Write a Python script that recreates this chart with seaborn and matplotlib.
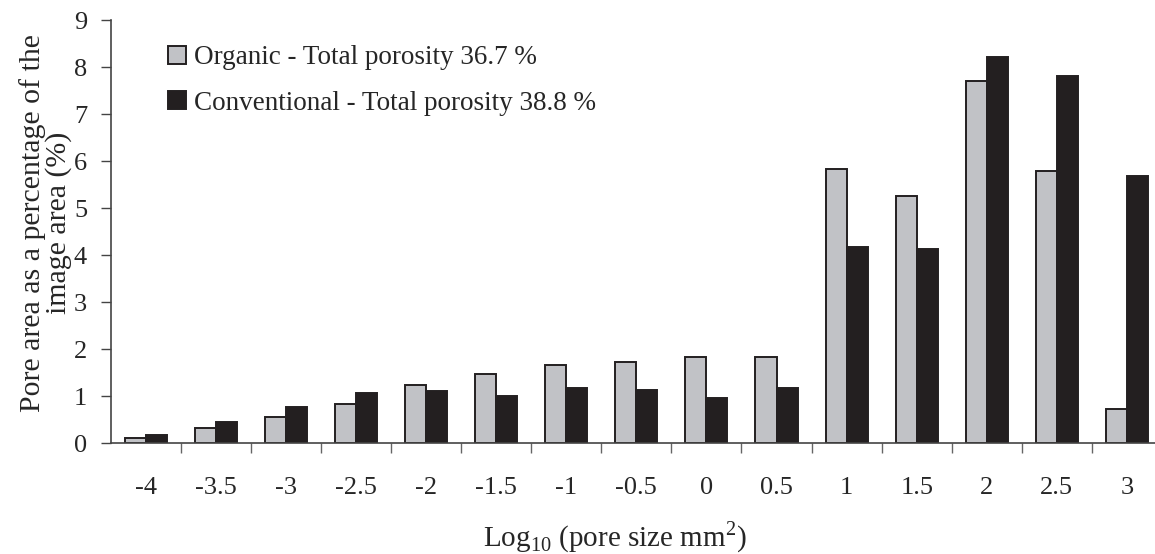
import pandas as pd
import numpy as np
import matplotlib
matplotlib.use('Agg')
import matplotlib.pyplot as plt
import seaborn as sns

# values
pore_size = ['-4', '-3.5', '-3', '-2.5', '-2', '-1.5', '-1', '-0.5',
             '0', '0.5', '1', '1.5', '2', '2.5', '3']
organic = [0.12, 0.32, 0.57, 0.84, 1.23, 1.48, 1.67, 1.72,
           1.83, 1.83, 5.84, 5.26, 7.70, 5.80, 0.72]
conventional = [0.17, 0.45, 0.77, 1.08, 1.12, 1.00, 1.17, 1.13,
                0.97, 1.17, 4.17, 4.14, 8.21, 7.82, 5.68]
series_names = ['Organic - Total porosity 36.7 %',
                'Conventional - Total porosity 38.8 %']

df = pd.DataFrame({
    'size': pore_size * 2,
    'value': organic + conventional,
    'series': [series_names[0]] * len(organic) + [series_names[1]] * len(conventional),
})

sns.set_style('white')
plt.rcParams['font.family'] = ['Liberation Serif', 'DejaVu Serif']
plt.rcParams['mathtext.fontset'] = 'custom'
plt.rcParams['mathtext.rm'] = 'Liberation Serif'

fig = plt.figure(figsize=(11.55, 5.54), dpi=100)
ax = fig.add_axes([0.0958, 0.1998, 0.9042, 0.7636])

colors = {series_names[0]: '#c1c2c6', series_names[1]: '#231f20'}
sns.barplot(data=df, x='size', y='value', hue='series', order=pore_size,
            hue_order=series_names, palette=colors, width=0.6,
            edgecolor='#231f20', linewidth=1.4, saturation=1, ax=ax)

ax.set_ylim(0, 9)
ax.set_xlim(-0.5, 14.4)
ax.set_yticks(range(0, 10))
ax.tick_params(axis='y', labelsize=19, length=7, width=1, color='#444444',
               direction='out', left=True, pad=10)
ax.tick_params(axis='x', which='major', labelsize=19, length=0, pad=24)
ax.set_xticks(np.arange(0.5, 14.5, 1), minor=True)
ax.tick_params(axis='x', which='minor', length=7, width=1, color='#666666', bottom=True)

for s in ['top', 'right']:
    ax.spines[s].set_visible(False)
for s in ['left', 'bottom']:
    ax.spines[s].set_color('#444444')
    ax.spines[s].set_linewidth(1.2)

ax.set_xlabel(r'Log$_{\mathrm{10}}$ (pore size mm$^{\mathrm{2}}$)', fontsize=21)
ax.xaxis.set_label_coords(0.483, -0.18)
ax.set_ylabel('Pore area as a percentage of the\nimage area (%)', fontsize=21.5, linespacing=0.95)
ax.yaxis.set_label_coords(-0.037, 0.521)

handles, labels = ax.get_legend_handles_labels()
ax.legend(handles, labels, loc='upper left', bbox_to_anchor=(0.0445, 0.966), frameon=False,
          fontsize=19.5, handlelength=0.65, handleheight=0.65, handletextpad=0.3,
          labelspacing=0.75, borderaxespad=0)

fig.savefig('out.png', dpi=100)
